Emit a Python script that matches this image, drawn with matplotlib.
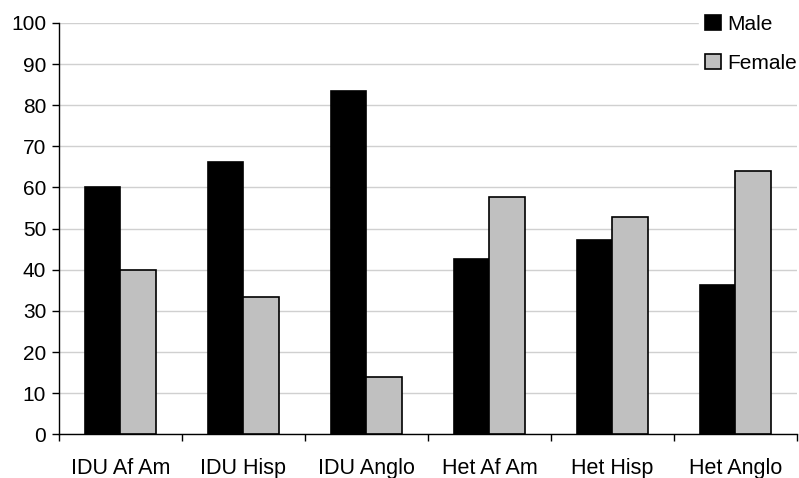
import numpy as np
import matplotlib
matplotlib.use("Agg")
import matplotlib.pyplot as plt

plt.rcParams['font.family'] = ['Liberation Sans', 'DejaVu Sans']

categories = ['IDU Af Am', 'IDU Hisp', 'IDU Anglo', 'Het Af Am', 'Het Hisp', 'Het Anglo']
male = [60, 66.3, 83.5, 42.5, 47.2, 36.2]
female = [40, 33.5, 13.9, 57.7, 52.8, 63.9]

fig = plt.figure(figsize=(7.99, 4.78), dpi=100)
ax = fig.add_axes([0.0735, 0.0914, 0.924, 0.8606])

x = np.arange(len(categories))
w = 0.29
ax.bar(x - w/2, male, w, color='black', edgecolor='black', linewidth=1.2, label='Male', zorder=3)
ax.bar(x + w/2, female, w, color='#c0c0c0', edgecolor='black', linewidth=1.2, label='Female', zorder=3)

ax.set_xlim(-0.5, len(categories) - 0.5)
ax.set_ylim(0, 100)
ax.set_yticks(range(0, 101, 10))
ax.set_xticks(x)
ax.set_xticklabels(categories)
ax.set_xticks(np.arange(-0.5, len(categories), 1), minor=True)
ax.tick_params(axis='x', which='major', length=0, pad=17, labelsize=15.5)
ax.tick_params(axis='x', which='minor', length=5, direction='out', width=1)
ax.tick_params(axis='y', length=5, width=1, pad=4, labelsize=15)

ax.grid(axis='y', color='#d0d0d0', linewidth=1, zorder=0)
ax.set_axisbelow(True)
for s in ['top', 'right']:
    ax.spines[s].set_visible(False)
ax.spines['left'].set_linewidth(1)
ax.spines['bottom'].set_linewidth(1)

leg = ax.legend(loc='upper right', bbox_to_anchor=(1.022, 1.06), frameon=True, fontsize=15,
                handlelength=0.75, handleheight=0.75, handletextpad=0.3, labelspacing=0.95,
                borderpad=0.3, fancybox=False)
leg.get_frame().set_edgecolor('white')
leg.get_frame().set_facecolor('white')
leg.get_frame().set_alpha(1)

fig.savefig('out.png', dpi=100)
